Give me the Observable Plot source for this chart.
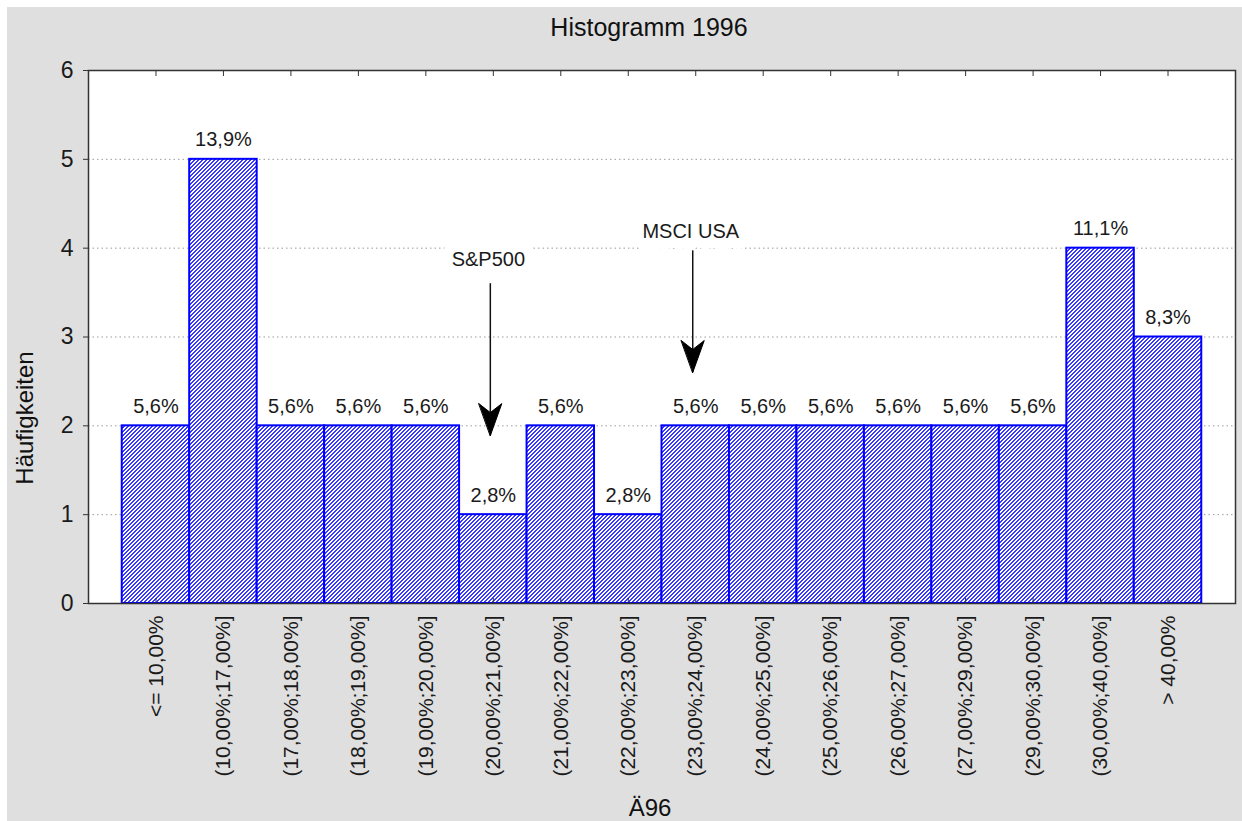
<!DOCTYPE html>
<html>
<head>
<meta charset="utf-8">
<script src="https://cdn.jsdelivr.net/npm/d3@7"></script>
<script src="https://cdn.jsdelivr.net/npm/@observablehq/plot@0.6"></script>
<style>
  html, body { margin: 0; padding: 0; background: #ffffff; }
  #wrap { padding: 7px 0 0 7px; width: 1235px; height: 814px; }
  #wrap svg { display: block; }
</style>
</head>
<body>
<div id="wrap"></div>
<script>
const categories = [
  "<= 10,00%", "(10,00%;17,00%]", "(17,00%;18,00%]", "(18,00%;19,00%]",
  "(19,00%;20,00%]", "(20,00%;21,00%]", "(21,00%;22,00%]", "(22,00%;23,00%]",
  "(23,00%;24,00%]", "(24,00%;25,00%]", "(25,00%;26,00%]", "(26,00%;27,00%]",
  "(27,00%;29,00%]", "(29,00%;30,00%]", "(30,00%;40,00%]", "> 40,00%"
];
const counts = [2, 5, 2, 2, 2, 1, 2, 1, 2, 2, 2, 2, 2, 2, 4, 3];
const percentLabels = ["5,6%", "13,9%", "5,6%", "5,6%", "5,6%", "2,8%", "5,6%", "2,8%",
  "5,6%", "5,6%", "5,6%", "5,6%", "5,6%", "5,6%", "11,1%", "8,3%"];
const yTicks = [0, 1, 2, 3, 4, 5, 6];
const gridTicks = [1, 2, 3, 4, 5];

const annotationLabels = ["S&P500", "MSCI USA"];
const annotationBins = ["(20,00%;21,00%]", "(23,00%;24,00%]"];
const arrowStart = [3.60, 3.97];
const arrowTip = [1.89, 2.60];
const labelBaseline = [3.80, 4.11];

const titleText = "Histogramm 1996";
const xTitle = "Ä96";
const yTitle = "Häufigkeiten";

const bars = categories.map((c, i) => ({cat: c, n: counts[i], pct: percentLabels[i]}));
const notes = annotationLabels.map((l, i) => ({
  label: l, cat: annotationBins[i], start: arrowStart[i], tip: arrowTip[i], ly: labelBaseline[i]
}));

const dart = {
  draw(context, l, r) {
    context.moveTo(0, -l);
    context.lineTo(-r, 0);
    context.lineTo(0, -l * 0.28);
    context.lineTo(r, 0);
    context.closePath();
  }
};

const font = "Arial, 'Liberation Sans', sans-serif";

const svg = Plot.plot({
  width: 1235,
  height: 814,
  marginLeft: 81,
  marginRight: 7,
  marginTop: 63,
  marginBottom: 218,
  style: {background: "#dfdfdf", fontFamily: font, color: "#1a1a1a", overflow: "visible"},
  x: {type: "band", domain: categories, paddingInner: 0, paddingOuter: 0.5, round: false},
  y: {domain: [0, 6]},
  marks: [
    Plot.frame({fill: "white", stroke: "none"}),
    Plot.gridY(gridTicks, {stroke: "#9a9a9a", strokeOpacity: 1, strokeDasharray: "1.5,3", strokeWidth: 1}),
    Plot.barY(bars, {x: "cat", y: "n", fill: "url(#hatch)", stroke: "#0000ff", strokeWidth: 2}),
    Plot.text(bars, {x: "cat", y: "n", text: "pct", dy: -13, lineAnchor: "bottom", fontSize: 20, fill: "#1a1a1a"}),
    Plot.ruleX(notes, {x: "cat", y1: "start", y2: "tip", dx: -3, stroke: "#111", strokeWidth: 1.5}),
    Plot.vector(notes, {x: "cat", y: "tip", dx: -3, length: 32, r: 11.5, rotate: 180, anchor: "end", shape: dart, fill: "#000", stroke: "#000", strokeWidth: 1}),
    Plot.text(notes, {x: "cat", y: "ly", text: "label", dx: -5, lineAnchor: "bottom", fontSize: 20, fill: "#1a1a1a", stroke: "white", strokeWidth: 22, strokeLinejoin: "round"}),
    Plot.frame({stroke: "#333", strokeWidth: 1.5}),
    Plot.axisY(yTicks, {tickSize: 5, tickPadding: 10, fontSize: 23, label: null, stroke: "#333", tickFormat: d3.format("d")}),
    Plot.axisX({anchor: "bottom", tickSize: -5, tickFormat: () => "", label: null, stroke: "#333"}),
    Plot.axisX({anchor: "top", tickSize: -5, tickFormat: () => "", label: null, stroke: "#333"}),
    Plot.axisX({anchor: "bottom", tickSize: 0, tickPadding: 12, tickRotate: -90, fontSize: 21, label: null}),
    Plot.text([titleText], {frameAnchor: "top", text: d => d, dx: -13, dy: -35, lineAnchor: "bottom", fontSize: 25, letterSpacing: 1.2, fill: "#111"}),
    Plot.text([xTitle], {frameAnchor: "bottom", text: d => d, dx: -12, dy: 212, lineAnchor: "bottom", fontSize: 24, fill: "#111"}),
    Plot.text([yTitle], {frameAnchor: "left", textAnchor: "middle", text: d => d, rotate: -90, dx: -56, dy: 81, lineAnchor: "bottom", fontSize: 24, fill: "#111"})
  ]
});

d3.select(svg).insert("defs", ":first-child").html(
  '<pattern id="hatch" patternUnits="userSpaceOnUse" width="4" height="4">' +
  '<rect width="4" height="4" fill="white"/>' +
  '<g fill="#3a3aff" shape-rendering="crispEdges">' +
  '<rect x="0" y="0" width="1" height="1"/><rect x="3" y="0" width="1" height="1"/>' +
  '<rect x="2" y="1" width="2" height="1"/>' +
  '<rect x="1" y="2" width="2" height="1"/>' +
  '<rect x="0" y="3" width="2" height="1"/>' +
  '</g></pattern>'
);

document.getElementById("wrap").appendChild(svg);
</script>
</body>
</html>
